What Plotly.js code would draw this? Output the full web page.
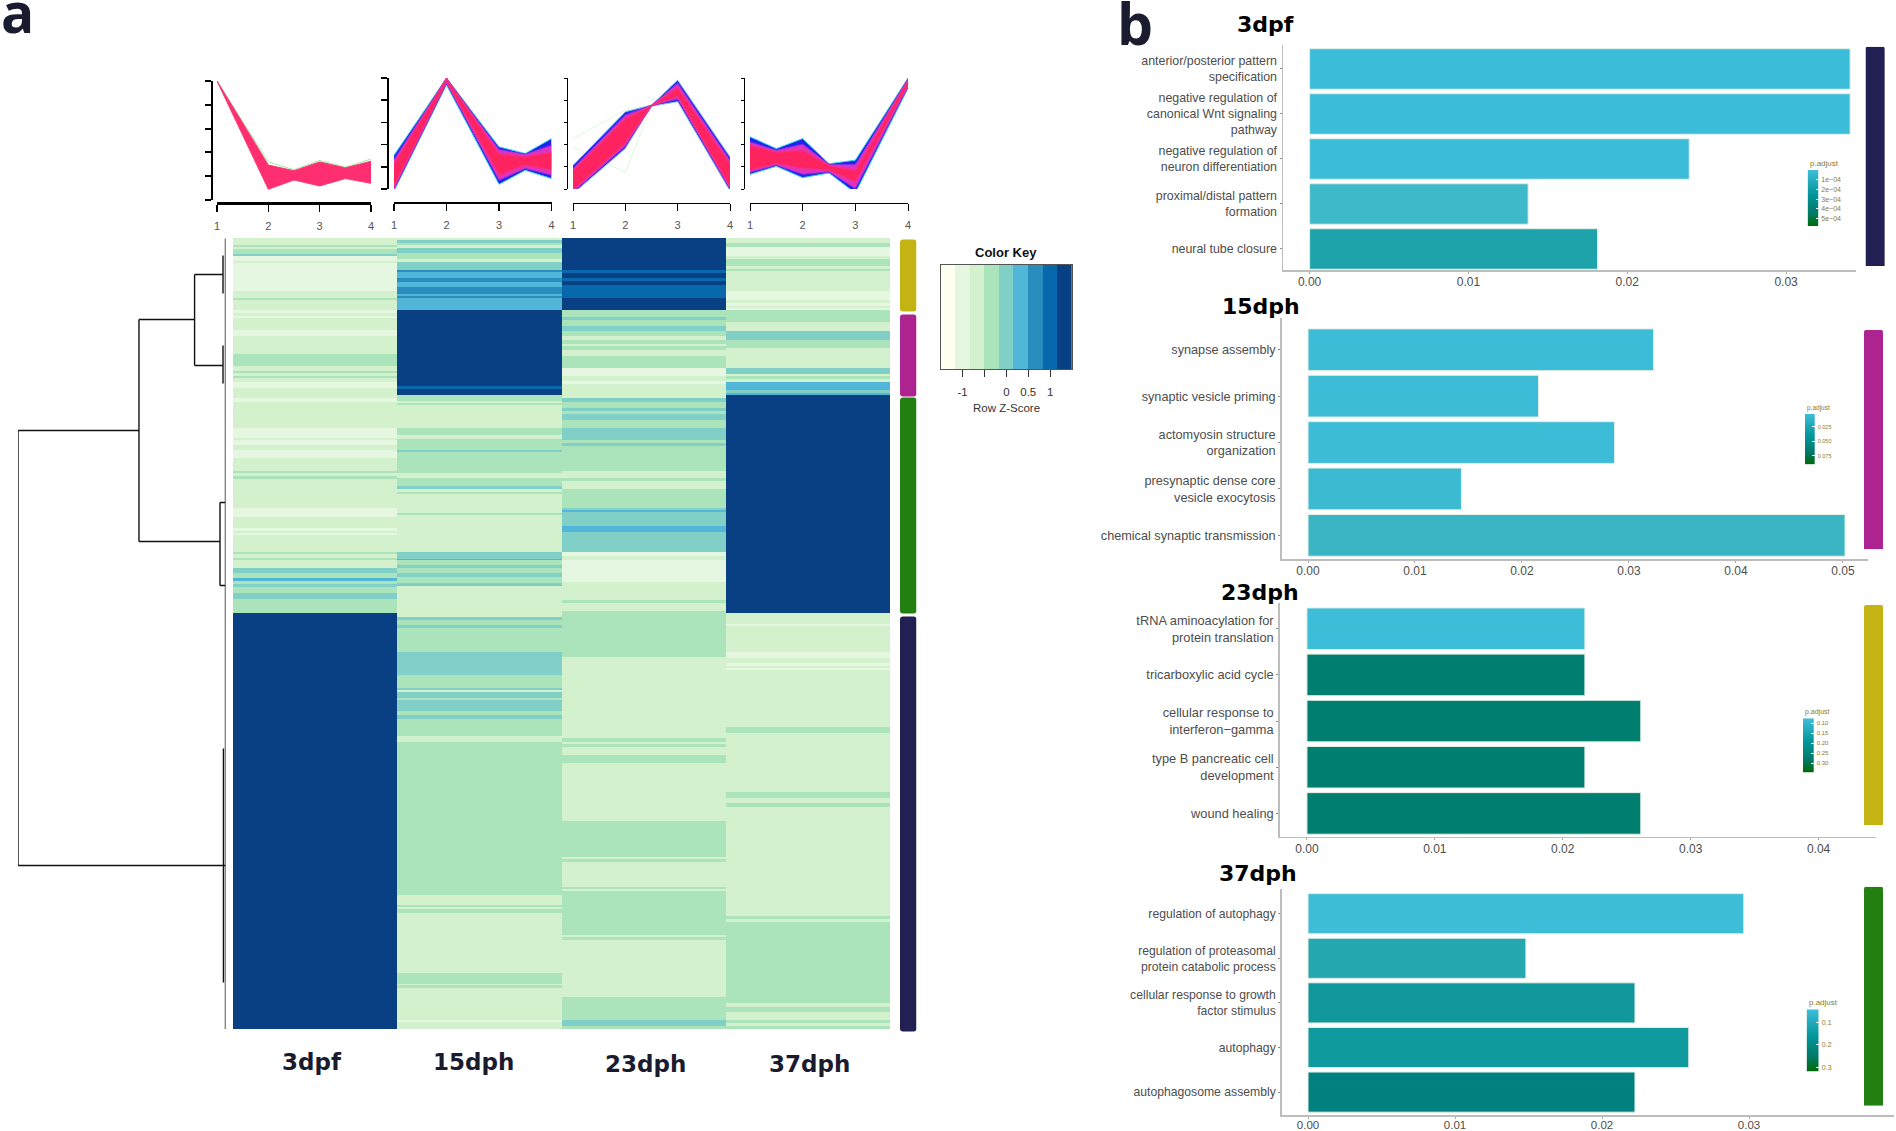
<!DOCTYPE html>
<html><head><meta charset="utf-8">
<script src="https://cdn.plot.ly/plotly-3.0.1.min.js"></script>
<style>html,body{margin:0;padding:0;background:#fff}#chart{width:1896px;height:1131px}</style>
</head><body><div id="chart"></div>
<script>
// ---------- heatmap: row-end index and colour-key level for each run of rows ----------
const stages = ['3dpf','15dph','23dph','37dph'];
const keyColors = ['#FFFFF0','#E5F7E0','#D2F1CC','#ABE3BA','#80D0C8','#52B6D8','#2B8CBE','#0868AC','#084083'];
const keyEdges = [-1.5,-1.1667,-0.8333,-0.5,-0.1667,0.1667,0.5,0.8333,1.1667,1.5];
const keyLevels = [0,1,2,3,4,5,6,7,8];
const keyTicks = [-1,-0.5,0,0.5,1];
const keyTickText = ['-1','','0','0.5','1'];

const ends3dpf = [7,9,11,16,18,23,25,53,60,62,72,75,78,80,92,98,116,128,133,135,138,140,144,150,160,164,190,200,202,207,212,220,233,235,238,241,270,279,290,293,295,297,314,316,320,322,330,335,340,343,346,349,355,361,375,791];
const lev3dpf  = [2,3,2,3,4,1,2,1,2,3,2,1,2,1,2,1,2,3,2,3,2,3,2,1,2,1,2,1,2,1,2,1,2,3,2,3,2,1,2,1,2,1,2,3,2,3,2,4,3,5,3,4,3,4,3,8];

const ends15dph = [2,5,7,10,15,21,24,32,34,40,44,47,49,56,58,60,72,148,151,157,163,165,167,190,197,201,212,214,235,240,248,251,254,256,275,277,314,321,322,327,330,335,339,345,348,379,382,387,390,414,437,450,452,454,460,462,473,477,481,498,504,657,667,669,671,675,735,739,746,747,750,782,784,791];
const lev15dph  = [2,4,3,2,4,3,2,4,6,5,6,5,5,6,5,6,5,8,7,8,3,2,3,2,3,2,3,4,3,2,3,4,2,3,2,3,2,4,5,3,4,3,4,3,4,2,4,3,4,3,4,3,4,2,4,3,4,3,4,3,2,3,2,3,2,3,2,3,3,2,3,2,1,2];

const ends23dph = [32,35,40,43,47,60,72,79,82,88,93,98,102,106,108,112,118,130,138,143,146,160,164,170,173,176,182,190,202,205,208,233,240,243,251,270,272,274,288,294,314,318,322,344,362,365,373,419,500,504,506,509,517,525,583,619,621,624,649,651,653,697,699,702,759,782,788,791];
const lev23dph  = [8,7,8,7,8,7,8,3,4,3,4,3,2,3,2,3,2,3,1,2,1,2,4,3,4,3,4,3,4,3,4,3,2,3,2,3,4,5,4,5,4,1,2,1,2,3,2,3,2,3,2,3,2,3,2,3,2,3,2,3,2,3,2,3,2,3,4,3];

const ends37dph = [5,9,18,21,28,31,33,53,62,65,68,70,72,84,93,102,110,130,136,138,141,144,152,155,157,375,386,388,414,420,425,428,430,432,489,495,554,560,565,569,678,681,684,765,769,774,782,785,788,791];
const lev37dph  = [2,3,1,2,3,2,3,2,1,2,1,2,1,3,2,4,3,2,4,2,3,2,5,4,5,8,2,1,2,1,2,1,2,1,2,3,2,3,2,3,2,3,2,3,2,3,2,3,2,3];

// ---------- dendrogram: merge height and row, null breaks the path ----------
const dendroHeight = [100,100,null,100,41.7,null,41.7,41.7,null,41.7,14.9,null,41.7,2.65,null,14.9,14.9,null,14.9,1.2,null,14.9,1.2,null,2.65,2.65,null,2.65,0,null,2.65,0,null,100,0,null,0,0,null,1.2,1.2,null,1.2,1.2,null,1.0,1.0];
const dendroRow    = [192,627,null,192,192,null,81,303,null,81,81,null,303,303,null,36,127,null,36,36,null,127,127,null,264,347,null,264,264,null,347,347,null,627,627,null,0,791,null,17,55,null,107,145,null,510,744];

// ---------- cluster colour strips ----------
const stripColors = ['#C4B413','#AD2390','#228011','#221F52'];
const stripStart = [1,76,159,378];
const stripRows = [72,82,216,415];

// ---------- cluster profile bands ----------
const prof1X = [1,2,2.5,3,3.5,4];
const prof1Up = [5,1.47,1.23,1.6,1.35,1.63];
const prof1Lo = [5,0.45,0.84,0.59,0.9,0.7];
const prof1Edge = [5,1.6,1.27,1.66,1.38,1.72];

const prof2X = [1,2,3,3.5,4];
const prof2OutUp = [1.52,5,1.9,1.6,2.27];
const prof2OutLo = [-0.09,4.68,0.21,0.84,0.47];
const prof2MidUp = [1.33,5,1.78,1.57,1.97];
const prof2MidLo = [-0.03,4.76,0.39,0.92,0.62];
const prof2InUp = [1.15,4.97,1.6,1.45,1.67];
const prof2InLo = [0.1,4.83,0.62,1.07,0.84];

const prof3X = [1,2,2.5,3,4];
const prof3OutUp = [1.07,3.48,3.78,4.91,1.45];
const prof3OutLo = [-0.21,1.82,3.73,3.93,-0.09];
const prof3MidUp = [0.92,3.33,3.77,4.76,1.3];
const prof3MidLo = [-0.15,1.93,3.75,4.05,0];
const prof3InUp = [0.84,3.18,3.76,4.58,1.14];
const prof3InLo = [-0.06,2.05,3.75,4.16,0.09];
const prof3FaintA = [2.27,3.55,3.78,4.3,1.4];
const prof3FaintB = [1.9,0.75,3.75,4.2,0.5];

const prof4X = [1,1.5,2,2.5,3,4];
const prof4OutUp = [2.35,1.82,2.27,1.14,1.3,5];
const prof4OutLo = [0.66,1.02,0.51,0.72,-0.18,4.53];
const prof4MidUp = [2.12,1.75,2.02,1.11,1.1,4.97];
const prof4MidLo = [0.75,1.07,0.66,0.77,0.02,4.6];
const prof4InUp = [1.97,1.67,1.75,1.07,0.84,4.91];
const prof4InLo = [0.84,1.14,0.92,0.84,0.32,4.68];

const profTicksX = [1,2,3,4];
const profTicksY = [0,1,2,3,4,5];

// ---------- enrichment bars ----------
const terms3dpf = ['anterior/posterior pattern<br>specification','negative regulation of<br>canonical Wnt signaling<br>pathway','negative regulation of<br>neuron differentiation','proximal/distal pattern<br>formation','neural tube closure'];
const ratio3dpf = [0.03403,0.03403,0.0239,0.01376,0.01813];
const colors3dpf = ['#3BBCD8','#3BBCD8','#3BBCD8','#3EB9C9','#1EA3AA'];

const terms15dph = ['synapse assembly','synaptic vesicle priming','actomyosin structure<br>organization','presynaptic dense core<br>vesicle exocytosis','chemical synaptic transmission'];
const ratio15dph = [0.0323,0.02155,0.02866,0.01434,0.0502];
const colors15dph = ['#3CBCD7','#3CBCD7','#3CBCD7','#3CBAD2','#3BB4C3'];

const terms23dph = ['tRNA aminoacylation for<br>protein translation','tricarboxylic acid cycle','cellular response to<br>interferon\u2212gamma','type B pancreatic cell<br>development','wound healing'];
const ratio23dph = [0.02173,0.02173,0.0261,0.02173,0.0261];
const colors23dph = ['#3EBDD8','#007F70','#007F70','#007F70','#007F70'];

const terms37dph = ['regulation of autophagy','regulation of proteasomal<br>protein catabolic process','cellular response to growth<br>factor stimulus','autophagy','autophagosome assembly'];
const ratio37dph = [0.02964,0.01482,0.02224,0.0259,0.02224];
const colors37dph = ['#3EBDD8','#25A8B0','#0F979B','#0F9A9E','#00807E'];

const barRows = [0,1,2,3,4];

// ---------- p.adjust legends ----------
const gradStops = [[0,'#3EBDD8'],[0.45,'#009498'],[0.75,'#007A68'],[1,'#006A00']];
const pSteps1 = [0,1e-4,2e-4,3e-4,4e-4,5e-4,5.76e-4];
const pTicks1 = [1e-4,2e-4,3e-4,4e-4,5e-4];
const pText1 = ['1e\u221204','2e\u221204','3e\u221204','4e\u221204','5e\u221204'];
const pSteps2 = [0.0026,0.025,0.05,0.075,0.0898];
const pTicks2 = [0.025,0.05,0.075];
const pText2 = ['0.025','0.050','0.075'];
const pSteps3 = [0.075,0.1,0.15,0.2,0.25,0.3,0.347];
const pTicks3 = [0.1,0.15,0.2,0.25,0.3];
const pText3 = ['0.10','0.15','0.20','0.25','0.30'];
const pSteps4 = [0.042,0.1,0.2,0.3,0.32];
const pTicks4 = [0.1,0.2,0.3];
const pText4 = ['0.1','0.2','0.3'];

// ---------- page helpers ----------
const W = 1896, H = 1131;
const dx = (a,b) => [a/W,b/W];
const dy = (t,b) => [1-b/H,1-t/H];
const expand = (ends,lev) => { const o=[]; let r=0; ends.forEach((e,i)=>{ for(;r<e;r++) o.push(lev[i]); }); return o; };

const data = [];
const layout = {width:W,height:H,autosize:false,margin:{l:0,r:0,t:0,b:0},paper_bgcolor:'#fff',plot_bgcolor:'rgba(0,0,0,0)',
  showlegend:false,font:{family:'"Liberation Sans",Arial,sans-serif',color:'#4d4d4d',size:12},annotations:[]};
let axN = 0;
function axes(xa,ya){ axN++; const s = axN===1?'':String(axN);
  layout['xaxis'+s] = Object.assign({fixedrange:true,zeroline:false,showgrid:false,automargin:false},xa,{anchor:xa.anchor||('y'+s)});
  layout['yaxis'+s] = Object.assign({fixedrange:true,zeroline:false,showgrid:false,automargin:false},ya,{anchor:ya.anchor||('x'+s)});
  return {xaxis:'x'+s,yaxis:'y'+s}; }
const hidden = {showticklabels:false,ticks:'',showline:false};
const note = (text,x,y,opt={}) => layout.annotations.push(Object.assign({xref:'paper',yref:'paper',x:x/W,y:1-y/H,text,showarrow:false,xanchor:'center',yanchor:'middle'},opt));

// heatmap
const colsale = keyColors.flatMap((c,i)=>[[i/9,c],[(i+1)/9,c]]);
const c1=expand(ends3dpf,lev3dpf),c2=expand(ends15dph,lev15dph),c3=expand(ends23dph,lev23dph),c4=expand(ends37dph,lev37dph);
const rows = c1.map((_,i)=>i);
data.push(Object.assign({type:'heatmap',x:stages,y:rows,z:rows.map(i=>[c1[i],c2[i],c3[i],c4[i]]),colorscale:colsale,zmin:-0.5,zmax:8.5,showscale:false,hoverinfo:'skip'},
  axes(Object.assign({domain:dx(233,890),type:'category',range:[-0.5,3.5]},hidden),Object.assign({domain:dy(238,1029),range:[790.5,-0.5]},hidden))));

// dendrogram
data.push(Object.assign({type:'scatter',mode:'lines',x:dendroHeight,y:dendroRow,line:{color:'#111',width:1.4},hoverinfo:'skip',cliponaxis:false,connectgaps:false},
  axes(Object.assign({domain:dx(18,225.5),range:[100,0]},hidden),Object.assign({domain:dy(238,1029),range:[790.5,-0.5]},hidden))));

// cluster strips
data.push(Object.assign({type:'bar',x:stripStart.map(()=>0),y:stripRows,base:stripStart,width:1,marker:{color:stripColors,cornerradius:3,line:{width:0}},hoverinfo:'skip'},
  axes(Object.assign({domain:dx(900,916.5),range:[-0.5,0.5]},hidden),Object.assign({domain:dy(238,1034),range:[795.5,-0.5]},hidden))));

// colour key
data.push(Object.assign({type:'heatmap',x:keyEdges,y:[0,1],z:[keyLevels],colorscale:colsale,zmin:-0.5,zmax:8.5,showscale:false,hoverinfo:'skip'},
  axes({domain:dx(940.7,1072),range:[-1.5,1.5],tickvals:keyTicks,ticktext:keyTickText,ticks:'outside',ticklen:7,tickcolor:'#333',tickwidth:1,showline:true,linecolor:'#555',linewidth:1,mirror:true,tickfont:{size:11.5,color:'#333'},ticklabelstandoff:5},
       {domain:dy(265,369),range:[0,1],showticklabels:false,ticks:'',showline:true,linecolor:'#555',linewidth:1,mirror:true})));
note('<b>Color Key</b>',1006,252,{font:{size:13,color:'#111'}});
note('Row Z-Score',1006,408,{font:{size:11.5,color:'#333'}});

// profile panels
function profileAxes(x0,x1,t,b,xPos,yPos,lx,ly){
  return axes({domain:dx(x0,x1),range:[1,4],anchor:'free',position:1-xPos/H,tickvals:profTicksX,ticks:'outside',ticklen:7,tickcolor:'#000',tickwidth:Math.min(lx,1.5),showline:true,linecolor:'#000',linewidth:lx,tickfont:{size:11,color:'#555'},ticklabelstandoff:5},
              {domain:dy(t,b),range:[0,5],anchor:'free',position:yPos/W,tickvals:profTicksY,showticklabels:false,ticks:'outside',ticklen:ly>1?6:3,tickcolor:'#000',tickwidth:ly,showline:true,linecolor:'#000',linewidth:ly});
}
function band(ax,x,up,lo,lineCol,fill,w){
  data.push(Object.assign({type:'scatter',mode:'lines',x,y:lo,line:{color:lineCol,width:w},hoverinfo:'skip',cliponaxis:false},ax));
  data.push(Object.assign({type:'scatter',mode:'lines',x,y:up,fill:'tonexty',fillcolor:fill,line:{color:lineCol,width:w},hoverinfo:'skip',cliponaxis:false},ax));
}
const a1 = profileAxes(217,371,81,200,203,211.5,2.5,2);
data.push(Object.assign({type:'scatter',mode:'lines',x:prof1X,y:prof1Edge,line:{color:'#9CF09C',width:1},hoverinfo:'skip',cliponaxis:false},a1));
band(a1,prof1X,prof1Up,prof1Lo,'#F83A78','#FF2E70',1);
const a2 = profileAxes(394,551.5,78,189,203,387,2,1.5);
band(a2,prof2X,prof2OutUp,prof2OutLo,'#38D8E8','#2222EE',1);
band(a2,prof2X,prof2MidUp,prof2MidLo,'#8030E8','#E032C0',1);
band(a2,prof2X,prof2InUp,prof2InLo,'#F03090','#FF2460',1.5);
const a3 = profileAxes(573,730,78,189,203,567,1,1);
[prof3FaintA,prof3FaintB].forEach(y=>data.push(Object.assign({type:'scatter',mode:'lines',x:prof3X,y,line:{color:'#DDF8DD',width:1},hoverinfo:'skip',cliponaxis:false},a3)));
band(a3,prof3X,prof3OutUp,prof3OutLo,'#90C8F0','#2A2AEE',1);
band(a3,prof3X,prof3MidUp,prof3MidLo,'#8030E8','#E032C0',1);
band(a3,prof3X,prof3InUp,prof3InLo,'#F03090','#FF2460',1.5);
const a4 = profileAxes(750,908,78,189,203,744,1,1);
band(a4,prof4X,prof4OutUp,prof4OutLo,'#30D8E8','#2222EE',1);
band(a4,prof4X,prof4MidUp,prof4MidLo,'#8030E8','#E032C0',1);
band(a4,prof4X,prof4InUp,prof4InLo,'#F03090','#FF2460',1.5);

// enrichment panels
function enrich(terms,vals,cols,x0,x1,t,b,xr,yr,fs,xSize,xOff){
  data.push(Object.assign({type:'bar',orientation:'h',x:vals,y:barRows,width:0.9,marker:{color:cols,line:{color:'#E4EFE4',width:1}},hoverinfo:'skip'},
    axes({domain:dx(x0,x1),range:xr,dtick:0.01,tick0:0,tickformat:'.2f',ticks:'outside',ticklen:2,tickcolor:'#aaa',showline:true,linecolor:'#BDBDBD',linewidth:1.5,tickfont:{size:xSize,color:'#4d4d4d'},ticklabelstandoff:xOff},
         {domain:dy(t,b),range:yr,tickvals:barRows,ticktext:terms,ticks:'outside',ticklen:2,tickcolor:'#888',showline:true,linecolor:'#BDBDBD',linewidth:1.5,tickfont:{size:fs,color:'#4d4d4d'},ticklabelstandoff:0})));
}
enrich(terms3dpf,ratio3dpf,colors3dpf,1283,1856,45,270,[-0.001675,0.0344],[4.467,-0.533],12.4,12,-2);
enrich(terms15dph,ratio15dph,colors15dph,1281.7,1867.5,318,559,[-0.00246,0.0523],[4.51,-0.685],12.7,12,-2);
enrich(terms23dph,ratio23dph,colors23dph,1279.7,1875.6,603,836.7,[-0.00213,0.04446],[4.504,-0.557],12.8,12,-2);
enrich(terms37dph,ratio37dph,colors37dph,1281.7,1894,889,1115.3,[-0.00179,0.03986],[4.52,-0.554],12.2,11.5,-4);

// side strips of the enrichment panels
[[1865.5,1884.8,46.7,266,stripColors[3]],[1864,1883,330,549.3,stripColors[1]],[1864,1883,605,825,stripColors[0]],[1864,1883,886.7,1105.7,stripColors[2]]].forEach(s=>{
  data.push(Object.assign({type:'bar',x:[0],y:[1],width:1,marker:{color:s[4],cornerradius:2,line:{width:0}},hoverinfo:'skip'},
    axes(Object.assign({domain:dx(s[0],s[1]),range:[-0.5,0.5]},hidden),Object.assign({domain:dy(s[2],s[3]),range:[0,1]},hidden))));
});

// p.adjust legends
function pLegend(steps,ticks,text,x0,x1,t,b,titleY,size){
  data.push(Object.assign({type:'heatmap',x:[0,1],y:steps,z:steps.map(v=>[v,v]),colorscale:gradStops,zmin:steps[0],zmax:steps[steps.length-1],zsmooth:'best',showscale:false,hoverinfo:'skip'},
    axes(Object.assign({domain:dx(x0,x1),range:[0,1]},hidden),
      {domain:dy(t,b),range:[steps[steps.length-1],steps[0]],side:'right',tickvals:ticks,ticktext:text,ticks:'inside',ticklen:2.5,tickcolor:'#fff',tickfont:{size:size,color:'#8C7A2E'},showline:false,ticklabelstandoff:2})));
  note('p.adjust',x0,titleY,{xanchor:'left',font:{size:size+1,color:'#8C7A2E'}});
}
pLegend(pSteps1,pTicks1,pText1,1807.6,1818.3,170,226,163,7);
pLegend(pSteps2,pTicks2,pText2,1805,1814.7,413.7,464.3,407.7,5.5);
pLegend(pSteps3,pTicks3,pText3,1803,1813.7,718.3,772.7,712,6);
pLegend(pSteps4,pTicks4,pText4,1806.6,1818.8,1009.3,1071.7,1002.3,7);

// headings
const heavy = s => ({family:'"DejaVu Sans",sans-serif',size:s,color:'#000'});
note('<b>a</b>',17,12,{font:{family:'"Open Sans",sans-serif',size:55,color:'#1B1B2F'}});
note('<b>b</b>',1135,23,{font:{family:'"Open Sans",sans-serif',size:57,color:'#1B1B2F'}});
note('<b>3dpf</b>',1265,25,{font:heavy(22)});
note('<b>15dph</b>',1261,306,{font:heavy(22)});
note('<b>23dph</b>',1260,592,{font:heavy(22)});
note('<b>37dph</b>',1258,873,{font:heavy(22)});
[[312,1062],[473,1062],[645,1064],[809,1064]].forEach((p,i)=>note('<b>'+stages[i]+'</b>',p[0],p[1],{font:{family:'"DejaVu Sans",sans-serif',size:23,color:'#1B1B2F'}}));

// the reference sets wrapped term labels with a tighter leading than the library's 1.3em
Plotly.newPlot('chart',data,layout,{displayModeBar:false,staticPlot:true}).then(gd=>{
  gd.querySelectorAll('.ytick text').forEach(t=>{
    const lines = t.querySelectorAll('tspan.line');
    if(lines.length<2) return;
    const fs = parseFloat(getComputedStyle(t).fontSize);
    const shift = (lines.length-1)*(1.3-1.1)*fs/2;
    lines.forEach((l,i)=>{
      l.setAttribute('dy',(i*1.1)+'em');
      l.setAttribute('y',parseFloat(l.getAttribute('y'))+shift);
    });
  });
});
</script></body></html>
